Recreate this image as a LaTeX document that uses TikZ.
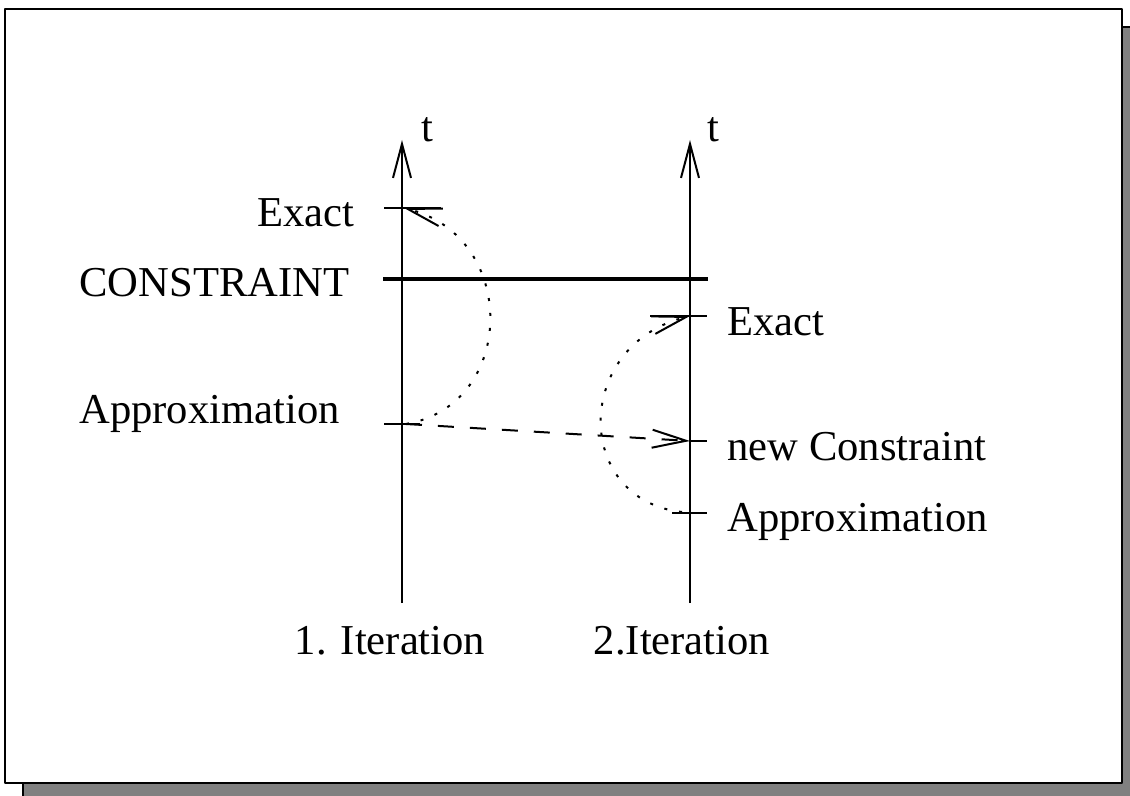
\documentclass[tikz,border=0pt]{standalone}
\usepackage{fontspec}
\setmainfont{Liberation Serif}
\usetikzlibrary{arrows.meta}

\begin{document}
\begin{tikzpicture}[x=.5pt,y=-.5pt,line join=round,
		barb/.style={-{Straight Barb[length=17pt,width=9pt]}},
		lbl/.style={inner sep=0pt,font=\fontsize{21.3}{25}\selectfont},
		dots/.style={line width=1pt,dash pattern=on 1.5pt off 6pt},
		dash line/.style={line width=1pt,dash pattern=on 8pt off 8pt}]
	\useasboundingbox (0,0) rectangle (1130,796);
	
	% frame with shadow
	\draw[line width=1pt,fill=gray] (23,27) rectangle (1132,798);
	\draw[line width=1pt,fill=white] (5,9) rectangle (1122,783);
	
	\path
	(402,603) coordinate (A1)
	(402,140) coordinate (T1)
	(690,603) coordinate (A2)
	(690,140) coordinate (T2);
	
	% time axes
	\draw[line width=1pt,barb] (A1)--(T1);
	\draw[line width=1pt,barb] (A2)--(T2);
	\node[lbl,anchor=base] (t1) at (427,142) {t};
	\node[lbl,anchor=base] (t2) at (713,142) {t};
	
	% ticks
	\path
	(384,208) coordinate (E1l)
	(441,208) coordinate (E1r)
	(404,208) coordinate (E1)
	(384,424) coordinate (P1l)
	(420,424) coordinate (P1r)
	(406,424) coordinate (P1)
	(650,316) coordinate (E2l)
	(707,316) coordinate (E2r)
	(690,316) coordinate (E2)
	(690,441) coordinate (N2)
	(707,441) coordinate (N2r)
	(672,513) coordinate (P2l)
	(707,513) coordinate (P2r)
	(682,512) coordinate (P2)
	(383,279) coordinate (C1)
	(708,279) coordinate (C2);
	\foreach \a/\b in {E1l/E1r,P1l/P1r,E2l/E2r,N2/N2r,P2l/P2r}{
		\draw[line width=1pt] (\a)--(\b);
	}
	\draw[line width=2pt] (C1)--(C2);
	
	% labels
	\node[lbl,anchor=base east] (ex1) at (355,227) {Exact};
	\node[lbl,anchor=base west] (con) at (79,297) {CONSTRAINT};
	\node[lbl,anchor=base west] (ap1) at (79,424) {Approximation};
	\node[lbl,anchor=base west] (ex2) at (727,336) {Exact};
	\node[lbl,anchor=base west] (nc2) at (727,461) {new Constraint};
	\node[lbl,anchor=base west] (ap2) at (727,531) {Approximation};
	\node[lbl,anchor=base] (it1) at (390,654) {1. Iteration};
	\node[lbl,anchor=base] (it2) at (682,654) {2.Iteration};
	
	% iterations
	\draw[dots,barb] (P1) .. controls (517,405) and (519,237) .. (E1);
	\draw[dots,barb] (P2) .. controls (573,500) and (573,345) .. (E2);
	\draw[dash line,barb] (P1)--(N2);
\end{tikzpicture}
\end{document}
